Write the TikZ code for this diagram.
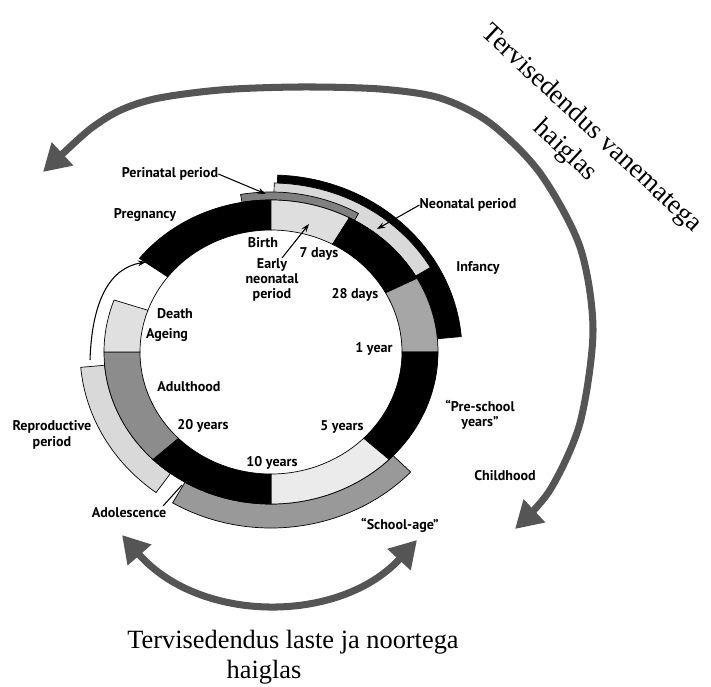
\documentclass[tikz,border=0pt]{standalone}
\usepackage{fontspec}
\setmainfont{Liberation Serif}
\newfontfamily\lblfont{PT Sans}
\usetikzlibrary{arrows.meta}
\definecolor{arrowgrey}{RGB}{85,85,85}
\newcommand{\annsec}[7]{\filldraw[#1] (#2:#4 and #5) arc[start angle=#2,end angle=#3,x radius=#4,y radius=#5] -- (#3:#6 and #7) arc[start angle=#3,end angle=#2,x radius=#6,y radius=#7] -- cycle;}
\begin{document}
\begin{tikzpicture}[x=0.03cm, y=0.03cm,
  lbl/.style={font=\lblfont\bfseries\fontsize{12}{13}\selectfont, align=center, inner sep=0pt},
  seg/.style={draw=black, line width=0.6pt},
  ptr/.style={-{Stealth[length=7pt,width=5pt]}, line width=0.9pt},
  bigarrow/.style={draw=arrowgrey, line width=6pt, {Triangle[length=0.8cm,width=0.9cm]}-{Triangle[length=0.8cm,width=0.9cm]}},
  bigtext/.style={font=\fontsize{22.5}{25}\selectfont, align=center, inner sep=0pt},
  rottext/.style={font=\fontsize{23}{25}\selectfont, inner sep=0pt, rotate=-43}
]
\useasboundingbox (0,0) rectangle (711,686);

\begin{scope}[shift={(271,334)}]
  % outer bands
  \annsec{seg, fill=black}{5}{88}{167}{152}{191}{177}
  \annsec{seg, fill=black!15}{30}{89}{167}{152}{184}{169}
  \annsec{seg, fill=black!50}{60}{100}{167}{152}{175}{160}
  \annsec{seg, fill=black!15}{185}{233}{167}{152}{191}{176}
  \annsec{seg, fill=black!40}{-121}{-43}{167}{152}{191}{176}
  % main ring
  \annsec{seg, fill=black}{90}{142}{131}{122}{167}{152}
  \annsec{seg, fill=black!13}{62}{90}{131}{122}{167}{152}
  \annsec{seg, fill=black}{29}{62}{131}{122}{167}{152}
  \annsec{seg, fill=black!35}{0}{29}{131}{122}{167}{152}
  \annsec{seg, fill=black}{-45}{0}{131}{122}{167}{152}
  \annsec{seg, fill=black!8}{-90}{-45}{131}{122}{167}{152}
  \annsec{seg, fill=black}{-135}{-90}{131}{122}{167}{152}
  \annsec{seg, fill=black!45}{-180}{-135}{131}{122}{167}{152}
  \annsec{seg, fill=black!12}{160}{180}{131}{122}{167}{152}
  \draw[seg] (142:131 and 122) arc[start angle=142,end angle=160,x radius=131,y radius=122];
\end{scope}

% labels
\node[lbl] (peri) at (170,512) {Perinatal period};
\node[lbl] (preg) at (145,471) {Pregnancy};
\node[lbl] (neo) at (468,481) {Neonatal period};
\node[lbl] (inf) at (478,418) {Infancy};
\node[lbl] (birth) at (263,443) {Birth};
\node[lbl] (d7) at (319,432) {7 days};
\node[lbl] (d28) at (355,391) {28 days};
\node[lbl] (early) at (272,406) {Early\\neonatal\\period};
\node[lbl] (death) at (175,372) {Death};
\node[lbl] (age) at (167,351) {Ageing};
\node[lbl] (y1) at (374,337) {1 year};
\node[lbl] (adult) at (189,299) {Adulthood};
\node[lbl] (y20) at (203,260) {20 years};
\node[lbl] (repro) at (52,251) {Reproductive\\period};
\node[lbl] (y10) at (272,223) {10 years};
\node[lbl] (y5) at (342,259) {5 years};
\node[lbl] (pre) at (480,271) {“Pre-school\\years”};
\node[lbl] (child) at (505,210) {Childhood};
\node[lbl] (adol) at (129,173) {Adolescence};
\node[lbl] (school) at (400,161) {“School-age”};

% pointers
\coordinate (periTip) at (266,492);
\coordinate (neoTip) at (377,457);
\coordinate (earlyStart) at (282,428);
\coordinate (earlyTip) at (309,462);
\coordinate (adolA) at (163,180);
\coordinate (adolB) at (182,201);
\coordinate (cycA) at (90,326);
\coordinate (cycB) at (146,424);
\draw[ptr] (peri.east) -- (periTip);
\draw[ptr] (neo.west) -- (neoTip);
\draw[ptr] (earlyStart) -- (earlyTip);
\draw[line width=0.9pt] (adolA) -- (adolB);
\draw[ptr] (cycA) .. controls (92,386) and (110,418) .. (cycB);

% big grey arrows
\coordinate (topA) at (43,514);
\coordinate (topB) at (515,157);
\draw[bigarrow] plot[smooth] coordinates {(topA) (103,566) (150,586) (220,596) (300,599) (380,597) (440,588) (490,563) (540,513) (580,439) (593,356) (580,263) (550,196) (topB)};
\coordinate (botA) at (122,151);
\coordinate (botB) at (417,146);
\draw[bigarrow] (botA) .. controls (200,62) and (340,62) .. (botB);

% big texts
\node[rottext] (par1) at (591,557) {Tervisedendus vanematega};
\node[rottext] (par2) at (565,535) {haiglas};
\node[bigtext, anchor=base] (kids1) at (293,38) {Tervisedendus laste ja noortega};
\node[bigtext, anchor=base] (kids2) at (264,8) {haiglas};
\end{tikzpicture}
\end{document}
